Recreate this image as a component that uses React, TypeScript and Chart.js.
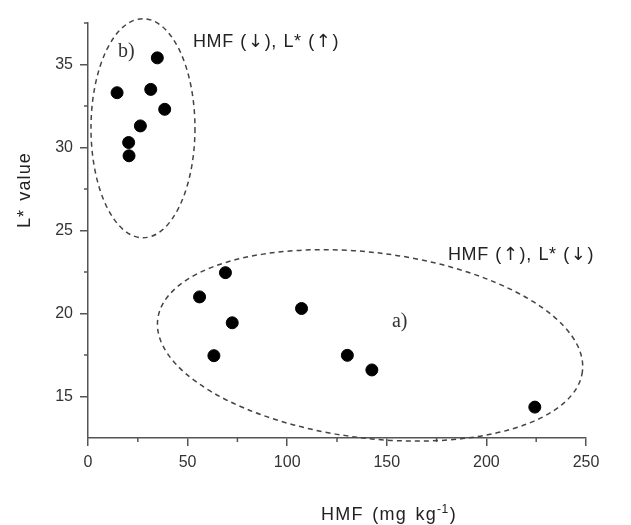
import React, { useEffect, useRef } from "react";
import { Chart, registerables } from "chart.js";

Chart.register(...registerables);

// Group b) – low HMF, high L*
const hmfGroupB = [14.6, 34.8, 31.5, 38.5, 26.3, 20.4, 20.6];
const lGroupB = [33.3, 35.4, 33.5, 32.3, 31.3, 30.3, 29.5];
// Group a) – high HMF, low L*
const hmfGroupA = [69, 56, 107.2, 72.4, 63.2, 130.2, 142.5, 224.3];
const lGroupA = [22.46, 21.0, 20.3, 19.44, 17.46, 17.48, 16.6, 14.36];

const xMajorTicks = [0, 50, 100, 150, 200, 250];
const xMinorTicks = [25, 75, 125, 175, 225];
const yMajorTicks = [15, 20, 25, 30, 35];
const yMinorTicks = [17.5, 22.5, 27.5, 32.5, 37.5];

const xTitle = "HMF (mg kg";
const xTitleSup = "-1";
const yTitle = "L* value";

// ellipse annotations: centre (data), radii (data), rotation (deg)
const ellipseA = { cx: 141.6, cy: 18.08, rx: 107.4, ry: 5.59, rot: 7 };
const ellipseB = { cx: 27.6, cy: 31.16, rx: 26.1, ry: 6.6, rot: 0 };

const labelB = { text: "b)", x: 15.1, y: 35.48 };
const labelA = { text: "a)", x: 152.6, y: 19.16 };
const noteB = { text: "HMF (\u2193), L* (\u2191)", x: 52.7, y: 36.08 };
const noteA = { text: "HMF (\u2191), L* (\u2193)", x: 180.7, y: 23.24 };

const SANS = "'Liberation Sans', Arial, sans-serif";
const ARROWS = "'DejaVu Sans', sans-serif";
const SERIF = "'Liberation Serif', 'DejaVu Serif', serif";

function drawMixed(ctx: CanvasRenderingContext2D, text: string, x: number, y: number) {
  let cx = x;
  for (const ch of Array.from(text)) {
    const isArrow = ch === "\u2191" || ch === "\u2193";
    ctx.font = isArrow ? `18px ${ARROWS}` : `18px ${SANS}`;
    ctx.fillText(ch, cx + (isArrow ? 1 : 0), y);
    cx += ctx.measureText(ch).width + (isArrow ? 2 : 0) + 0.6 + (ch === " " ? 1 : 0);
  }
}

function drawSpaced(ctx: CanvasRenderingContext2D, text: string, x: number, y: number, ls: number, ws: number) {
  let cx = x;
  for (const ch of Array.from(text)) {
    ctx.fillText(ch, cx, y);
    cx += ctx.measureText(ch).width + ls + (ch === " " ? ws : 0);
  }
  return cx - x;
}

const annotationPlugin = {
  id: "annotations",
  afterDraw(chart: any) {
    const ctx = chart.ctx as CanvasRenderingContext2D;
    const xs = chart.scales.x;
    const ys = chart.scales.y;
    const area = chart.chartArea;
    ctx.save();

    // minor ticks
    ctx.strokeStyle = "#555";
    ctx.lineWidth = 1.5;
    xMinorTicks.forEach((v) => {
      const px = xs.getPixelForValue(v);
      ctx.beginPath();
      ctx.moveTo(px, area.bottom);
      ctx.lineTo(px, area.bottom + 4);
      ctx.stroke();
    });
    yMinorTicks.forEach((v) => {
      const py = ys.getPixelForValue(v);
      ctx.beginPath();
      ctx.moveTo(area.left, py);
      ctx.lineTo(area.left - 4, py);
      ctx.stroke();
    });

    // ellipses
    ctx.setLineDash([5, 4]);
    ctx.strokeStyle = "#444";
    ctx.lineWidth = 1.5;
    [ellipseA, ellipseB].forEach((e) => {
      const cx = xs.getPixelForValue(e.cx);
      const cy = ys.getPixelForValue(e.cy);
      const rx = Math.abs(xs.getPixelForValue(e.cx + e.rx) - cx);
      const ry = Math.abs(ys.getPixelForValue(e.cy + e.ry) - cy);
      ctx.beginPath();
      ctx.ellipse(cx, cy, rx, ry, (e.rot * Math.PI) / 180, 0, Math.PI * 2);
      ctx.stroke();
    });
    ctx.setLineDash([]);

    // notes
    ctx.fillStyle = "#222";
    ctx.textBaseline = "alphabetic";
    ctx.textAlign = "left";
    [noteA, noteB].forEach((n) => {
      drawMixed(ctx, n.text, xs.getPixelForValue(n.x), ys.getPixelForValue(n.y));
    });
    ctx.font = `20px ${SERIF}`;
    ctx.fillStyle = "#333";
    [labelA, labelB].forEach((n) => {
      ctx.fillText(n.text, xs.getPixelForValue(n.x), ys.getPixelForValue(n.y));
    });

    // axis titles
    ctx.fillStyle = "#222";
    ctx.font = `18px ${SANS}`;
    const tx = 321;
    const ty = 520;
    const w1 = drawSpaced(ctx, xTitle, tx, ty, 1.2, 2.5);
    ctx.font = `12px ${SANS}`;
    const w2 = drawSpaced(ctx, xTitleSup, tx + w1, ty - 7, 0.5, 0);
    ctx.font = `18px ${SANS}`;
    ctx.fillText(")", tx + w1 + w2 + 1, ty);

    ctx.save();
    ctx.translate(30, 228);
    ctx.rotate(-Math.PI / 2);
    ctx.textAlign = "left";
    drawSpaced(ctx, yTitle, 0, 0, 1.1, 2);
    ctx.restore();

    ctx.restore();
  },
};

export default function App() {
  const ref = useRef<HTMLCanvasElement | null>(null);

  useEffect(() => {
    document.body.style.margin = "0";
    const canvas = ref.current;
    if (!canvas) return;
    const toPts = (xs: number[], ys: number[]) => xs.map((x, i) => ({ x, y: ys[i] }));
    const chart = new Chart(canvas, {
      type: "scatter",
      data: {
        datasets: [
          {
            label: "b",
            data: toPts(hmfGroupB, lGroupB),
            backgroundColor: "#000",
            borderColor: "#000",
            pointRadius: 6,
          },
          {
            label: "a",
            data: toPts(hmfGroupA, lGroupA),
            backgroundColor: "#000",
            borderColor: "#000",
            pointRadius: 6,
          },
        ],
      },
      options: {
        responsive: false,
        animation: false,
        layout: { padding: { top: 23, right: 45, left: 0, bottom: 0 } },
        plugins: { legend: { display: false }, tooltip: { enabled: false } },
        scales: {
          x: {
            type: "linear",
            min: 0,
            max: 250,
            afterFit: (s: any) => {
              s.height = 87;
            },
            afterBuildTicks: (s: any) => {
              s.ticks = xMajorTicks.map((v) => ({ value: v }));
            },
            ticks: {
              color: "#333",
              font: { family: SANS, size: 16 },
              padding: 7,
              maxRotation: 0,
            },
            grid: {
              display: true,
              drawOnChartArea: false,
              drawTicks: true,
              tickLength: 8,
              color: "#555",
              lineWidth: 1.5,
            },
            border: { display: true, color: "#555", width: 1.5 },
          },
          y: {
            type: "linear",
            min: 12.5,
            max: 37.5,
            afterFit: (s: any) => {
              s.width = 88;
            },
            afterBuildTicks: (s: any) => {
              s.ticks = yMajorTicks.map((v) => ({ value: v }));
            },
            ticks: {
              color: "#333",
              font: { family: SANS, size: 16 },
              padding: 7,
            },
            grid: {
              display: true,
              drawOnChartArea: false,
              drawTicks: true,
              tickLength: 8,
              color: "#555",
              lineWidth: 1.5,
            },
            border: { display: true, color: "#555", width: 1.5 },
          },
        },
      },
      plugins: [annotationPlugin],
    } as any);
    return () => chart.destroy();
  }, []);

  return (
    <div style={{ position: "absolute", left: 0, top: 0, width: 631, height: 525, background: "#fff" }}>
      <canvas ref={ref} width={631} height={525} style={{ display: "block" }} />
    </div>
  );
}
